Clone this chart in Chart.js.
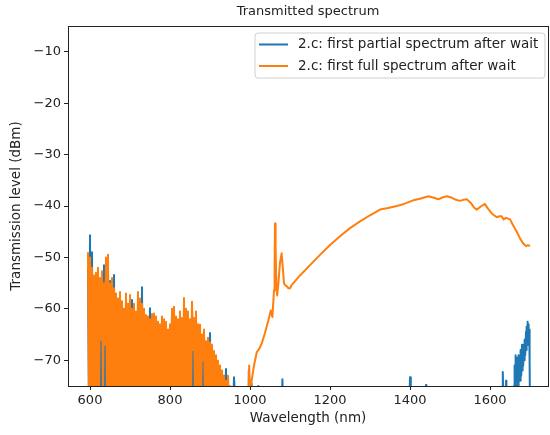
<!DOCTYPE html>
<html>
<head>
<meta charset="utf-8">
<script src="https://cdn.jsdelivr.net/npm/chart.js@4.4.0/dist/chart.umd.min.js"></script>
<style>
  html, body { margin: 0; padding: 0; background: #fff; }
  #wrap { width: 550px; height: 435px; }
</style>
</head>
<body>
<div id="wrap"><canvas id="spectrumChart" width="550" height="435"></canvas></div>
<script>
// Wavelengths (nm) of the noisy short-wavelength part, shared by both traces
var noiseNm = [595,597.5,600,602.5,605,607.5,610,612.5,615,617.5,620,622.5,625,627.5,630,632.5,635,637.5,640,642.5,
  645,647.5,650,652.5,655,657.5,660,662.5,665,667.5,670,672.5,675,677.5,680,682.5,685,687.5,690,692.5,
  695,697.5,700,702.5,705,707.5,710,712.5,715,717.5,720,722.5,725,727.5,730,732.5,735,737.5,740,742.5,
  745,747.5,750,752.5,755,757.5,760,762.5,765,767.5,770,772.5,775,777.5,780,782.5,785,787.5,790,792.5,
  795,797.5,800,802.5,805,807.5,810,812.5,815,817.5,820,822.5,825,827.5,830,832.5,835,837.5,840,842.5,
  845,847.5,850,852.5,855,857.5,860,862.5,865,867.5,870,872.5,875,877.5,880,882.5,885,887.5,890,892.5,
  895,897.5,900,902.5,905,907.5,910,912.5,915,917.5,920,922.5,925,927.5,930,932.5,935,937.5,940,942.5,
  945,947.5,950,952.5,955,957.5,960];

// Full spectrum (orange), noisy part
var fullNoise = [-49,-80,-50,-80,-52,-80,-53.5,-80,-53,-80,-52,-80,-54,-66,-52.7,-80,-55,-67,-50,-80,
  -49.5,-80,-55,-80,-54,-80,-56,-80,-57,-80,-58,-80,-56.7,-80,-58.5,-80,-60,-80,-57,-80,
  -59,-80,-57.3,-80,-60,-80,-59,-80,-60.5,-80,-56.7,-80,-58,-80,-59,-80,-60,-80,-61.2,-80,
  -61.5,-80,-62,-80,-61,-80,-60.9,-80,-61.5,-80,-62.5,-80,-63,-80,-61.5,-80,-62,-80,-62.5,-80,
  -64,-80,-63,-80,-60,-80,-59.6,-80,-61.5,-80,-62,-80,-60.5,-80,-61.8,-80,-57.9,-80,-60,-80,
  -60.5,-80,-62,-80,-58.6,-68,-61.8,-80,-60.5,-80,-63,-80,-63.1,-80,-65,-70,-64,-80,-66.3,-80,
  -65.6,-80,-66.5,-80,-67,-80,-68.2,-80,-69,-80,-70.1,-80,-71,-80,-72,-80,-73,-80,-74,-80,
  -73,-80,-75,-80,-77,-80,-80];

// Partial spectrum (blue), noisy part
var partNoise = [-52,-80,-45.7,-80,-49,-80,-55,-80,-54,-80,-53,-80,-55,-80,-54,-80,-51.5,-80,-52,-80,
  -52.7,-80,-54.6,-80,-56,-80,-53.4,-80,-58,-80,-59,-80,-58,-80,-60,-80,-61,-80,-58,-80,
  -60,-80,-58.5,-80,-58.3,-80,-61,-80,-62,-80,-58,-80,-59,-80,-55.8,-80,-61,-80,-62,-80,
  -63,-80,-59.9,-80,-62,-80,-62,-80,-63,-80,-63.1,-80,-64,-80,-63,-80,-62.5,-80,-63.5,-80,
  -65,-80,-64,-80,-61,-80,-61,-80,-62.5,-80,-63,-80,-62,-80,-63,-80,-60,-80,-61,-80,
  -62,-80,-63.5,-80,-60,-80,-63,-80,-62,-80,-64,-80,-64.5,-80,-66,-80,-65,-80,-67,-80,
  -66.5,-80,-64.7,-80,-68,-80,-69,-80,-70,-80,-71,-80,-72,-80,-73,-80,-73,-80,-71.7,-80,
  -76,-80,-78,-80,-80,-80,-73.3];

// Full spectrum (orange), rest of the range
var fullTailNm = [970,980,990,996,998,1000,1005,1010,1017,1023,1029,1037,1046,1052,1056,1060,1061.5,1062.5,1064,1066,
  1068,1071,1075,1079,1082,1085,1088,1092,1096,1100,1104,1125,1150,1175,1200,1225,1250,1275,1300,1325,
  1345,1367,1385,1408,1425,1446,1460,1471,1482,1492,1505,1515,1525,1533,1542,1552,1560,1567,1577,1587,
  1595,1605,1617,1623,1629,1634,1640,1650,1658,1667,1675,1683,1690,1695,1700];
var fullTail = [-80,-78,-80,-77,-71,-76,-73.5,-71,-68.4,-67.8,-66.8,-64.8,-62.2,-60.3,-61.6,-56.4,-52,-43.4,-48,-56,
  -57.4,-55,-51,-49.2,-52,-55,-55.4,-55.6,-56,-56,-55.4,-53.5,-51.5,-49.5,-47.6,-45.9,-44.3,-43,-41.8,-40.7,
  -40.4,-40,-39.6,-38.9,-38.6,-38.1,-38.4,-38.7,-38.3,-38.1,-38.4,-38.8,-39,-38.8,-38.7,-39.4,-40.3,-40.7,-40.1,-39.6,
  -40.5,-41.5,-42.2,-42,-42,-42.6,-42.3,-42.6,-43.8,-45,-46.3,-47.3,-47.8,-47.6,-47.8];

// Partial spectrum (blue), rest of the range
var partTailNm = [965,975,996,997,999,1004,1006,1020,1021,1023,1079,1081,1083,1398,1400,1402,1439,1440,1441,1630,
  1632,1634,1639,1640,1641,1658,1660,1661,1662,1663,1664,1665,1666,1667,1668,1669,1670,1671,1672,1673,
  1675,1676,1677,1678,1680,1681,1682,1683,1685,1686,1687,1688,1690,1691,1692,1693,1694,1695,1696,1697,
  1698,1699,1700];
var partTail = [-80,-80,-80,-72,-80,-74.5,-80,-80,-75,-80,-80,-73.7,-80,-80,-73.3,-80,-80,-74.8,-80,-80,
  -72.3,-80,-80,-74,-80,-80,-75,-80,-71,-76,-69,-75,-70,-76,-69.5,-75,-70,-76,-69,-74,
  -69.5,-74,-68,-73,-67,-72,-67.5,-71,-67,-70,-66,-69,-64.5,-68,-63.5,-67,-62.5,-66,-63,-67,
  -64,-70,-80];

var xTicks = [600, 800, 1000, 1200, 1400, 1600];
var yTicks = [-70, -60, -50, -40, -30, -20, -10];
var seriesLabels = ['2.c: first partial spectrum after wait', '2.c: first full spectrum after wait'];
var seriesColors = ['#1f77b4', '#ff7f0e'];

var FONT = '"DejaVu Sans", sans-serif';

function toPoints(xs, ys) {
  return xs.map(function(x, i) { return { x: x, y: ys[i] }; });
}

var fullPoints = toPoints(noiseNm, fullNoise).concat(toPoints(fullTailNm, fullTail));
var partPoints = toPoints(noiseNm, partNoise).concat(toPoints(partTailNm, partTail));

// Frame, title, axis titles and legend drawn like matplotlib
var decorPlugin = {
  id: 'decor',
  afterDraw: function(chart) {
    var ctx = chart.ctx;
    var a = chart.chartArea;
    ctx.save();

    // spines
    ctx.strokeStyle = '#222';
    ctx.lineWidth = 1;
    ctx.strokeRect(Math.round(a.left) + 0.5, Math.round(a.top) + 0.5,
      Math.round(a.right - a.left), Math.round(a.bottom - a.top));

    ctx.fillStyle = '#222';
    ctx.textAlign = 'center';
    ctx.textBaseline = 'middle';

    // title
    ctx.font = '13px ' + FONT;
    ctx.fillText('Transmitted spectrum', (a.left + a.right) / 2, 12);

    // axis titles
    ctx.font = '13.5px ' + FONT;
    ctx.fillText('Wavelength (nm)', (a.left + a.right) / 2, 418);
    ctx.save();
    ctx.translate(16, (a.top + a.bottom) / 2);
    ctx.rotate(-Math.PI / 2);
    ctx.fillText('Transmission level (dBm)', 0, 0);
    ctx.restore();

    // legend box
    var bx = 255, by = 33, bw = 290, bh = 45, r = 3;
    ctx.beginPath();
    ctx.moveTo(bx + r, by);
    ctx.lineTo(bx + bw - r, by);
    ctx.quadraticCurveTo(bx + bw, by, bx + bw, by + r);
    ctx.lineTo(bx + bw, by + bh - r);
    ctx.quadraticCurveTo(bx + bw, by + bh, bx + bw - r, by + bh);
    ctx.lineTo(bx + r, by + bh);
    ctx.quadraticCurveTo(bx, by + bh, bx, by + bh - r);
    ctx.lineTo(bx, by + r);
    ctx.quadraticCurveTo(bx, by, bx + r, by);
    ctx.closePath();
    ctx.fillStyle = 'rgba(255,255,255,0.8)';
    ctx.fill();
    ctx.strokeStyle = '#d0d0d0';
    ctx.stroke();

    ctx.textAlign = 'left';
    ctx.font = '13.5px ' + FONT;
    seriesLabels.forEach(function(label, i) {
      var y = 44.5 + i * 21.5;
      ctx.strokeStyle = seriesColors[i];
      ctx.lineWidth = 2;
      ctx.beginPath();
      ctx.moveTo(259, y);
      ctx.lineTo(288, y);
      ctx.stroke();
      ctx.fillStyle = '#222';
      ctx.fillText(label, 298, y);
    });

    ctx.restore();
  }
};

var ctx = document.getElementById('spectrumChart').getContext('2d');
new Chart(ctx, {
  type: 'line',
  data: {
    datasets: [{
      label: seriesLabels[0],
      data: partPoints,
      borderColor: seriesColors[0],
      borderWidth: 2,
      borderJoinStyle: 'round',
      pointRadius: 0,
      tension: 0,
      clip: 0,
      order: 2
    }, {
      label: seriesLabels[1],
      data: fullPoints,
      borderColor: seriesColors[1],
      borderWidth: 2,
      borderJoinStyle: 'round',
      pointRadius: 0,
      tension: 0,
      clip: 0,
      order: 1
    }]
  },
  options: {
    responsive: false,
    animation: false,
    devicePixelRatio: 1,
    layout: { padding: { top: 26, right: 2, left: 0, bottom: 0 } },
    plugins: {
      legend: { display: false },
      title: { display: false },
      tooltip: { enabled: false }
    },
    scales: {
      x: {
        type: 'linear',
        min: 545,
        max: 1745,
        afterBuildTicks: function(scale) {
          scale.ticks = xTicks.map(function(v) { return { value: v }; });
        },
        afterFit: function(scale) { scale.height = 49; },
        grid: { drawOnChartArea: false, drawTicks: true, tickLength: 4, color: '#222' },
        border: { display: false },
        ticks: {
          color: '#222',
          padding: 3,
          maxRotation: 0,
          font: { family: FONT, size: 13 },
          callback: function(v) { return String(v); }
        }
      },
      y: {
        type: 'linear',
        min: -75,
        max: -5,
        afterBuildTicks: function(scale) {
          scale.ticks = yTicks.map(function(v) { return { value: v }; });
        },
        afterFit: function(scale) { scale.width = 68; },
        grid: { drawOnChartArea: false, drawTicks: true, tickLength: 4, color: '#222' },
        border: { display: false },
        ticks: {
          color: '#222',
          padding: 3,
          font: { family: FONT, size: 13 },
          callback: function(v) { return String(v).replace('-', '\u2212'); }
        }
      }
    }
  },
  plugins: [decorPlugin]
});
</script>
</body>
</html>
